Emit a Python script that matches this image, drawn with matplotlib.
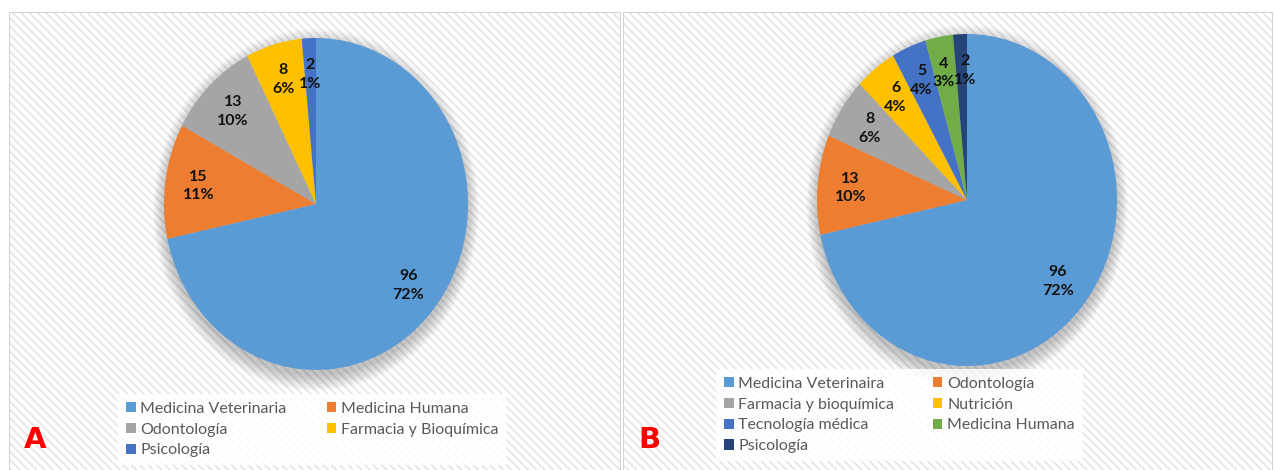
import matplotlib
matplotlib.use("Agg")
import matplotlib.pyplot as plt
from matplotlib.patches import Rectangle, Ellipse

# datos de los dos paneles
carreras_a = ['Medicina Veterinaria', 'Medicina Humana', 'Odontología',
              'Farmacia y Bioquímica', 'Psicología']
valores_a = [96, 15, 13, 8, 2]
colores_a = ['#5B9BD5', '#ED7D31', '#A5A5A5', '#FFC000', '#4472C4']

carreras_b = ['Medicina Veterinaira', 'Odontología', 'Farmacia y bioquímica',
              'Nutrición', 'Tecnología médica', 'Medicina Humana', 'Psicología']
valores_b = [96, 13, 8, 6, 5, 4, 2]
colores_b = ['#5B9BD5', '#ED7D31', '#A5A5A5', '#FFC000', '#4472C4', '#70AD47', '#264478']

plt.rcParams['font.family'] = ['Lato', 'DejaVu Sans']
plt.rcParams['hatch.linewidth'] = 1.3

W, H = 1275, 470
fig = plt.figure(figsize=(W / 100, H / 100), dpi=100)
fig.patch.set_facecolor('white')


def px_axes(x0, y0, w, h):
    # convierte un rectángulo en píxeles (origen arriba-izquierda) a coordenadas de figura
    return fig.add_axes([x0 / W, 1 - (y0 + h) / H, w / W, h / H])


def panel(x0, x1, letra):
    ax = px_axes(x0, 12, x1 - x0, H - 10)
    ax.set_xlim(0, 1)
    ax.set_ylim(0, 1)
    ax.axis('off')
    ax.add_patch(Rectangle((0, 0), 1, 1, transform=ax.transAxes, facecolor='white',
                           edgecolor='#E6E6E6', hatch='\\\\\\\\', lw=0, zorder=0))
    ax.add_patch(Rectangle((0, 0), 1, 1, transform=ax.transAxes, facecolor='none',
                           edgecolor='#D4D4D4', lw=1.5, zorder=1))
    fig.text((x0 + 26) / W, 1 - 440 / H, letra, color='#FF0000', fontsize=21,
             fontweight='bold', family='DejaVu Sans', ha='center', va='center')


def pastel(cx, cy, rx, ry, valores, colores):
    lim = 1.15
    ax = px_axes(cx - rx * lim, cy - ry * lim, 2 * rx * lim, 2 * ry * lim)
    # sombra suave bajo el gráfico
    for k in range(10):
        ax.add_patch(Ellipse((0, -0.035), 2 * (1 + 0.008 * k), 2 * (1 + 0.01 * k),
                             facecolor='#000000', alpha=0.025, lw=0, zorder=0))
    total = sum(valores)
    wedges, _, autotexts = ax.pie(
        valores, colors=colores, startangle=90, counterclock=False,
        autopct=lambda p: f"{round(p * total / 100)}\n{round(p)}%",
        pctdistance=0.78, wedgeprops=dict(lw=0), frame=True,
        textprops=dict(fontsize=11.5, fontweight='bold', color='#111111', linespacing=1.4))
    ax.set_xlim(-lim, lim)
    ax.set_ylim(-lim, lim)
    ax.set_aspect('auto')
    ax.axis('off')
    return wedges, autotexts


def fila_primero(items):
    # la leyenda de Excel se llena por filas; matplotlib llena por columnas
    return items[0::2] + items[1::2]


panel(9, 621, 'A')
panel(623, 1273, 'B')

wedges_a, textos_a = pastel(316, 204, 152, 166, valores_a, colores_a)
wedges_b, textos_b = pastel(967, 200, 150, 166, valores_b, colores_b)

# separar un poco las dos etiquetas más pequeñas del panel B
x, y = textos_b[-1].get_position()
textos_b[-1].set_position((x + 0.025, y))
x, y = textos_b[-2].get_position()
textos_b[-2].set_position((x - 0.01, y))

estilo_leyenda = dict(loc='upper left', ncol=2, frameon=True, fontsize=11.5,
                      handlelength=0.6, handleheight=0.6, handletextpad=0.3,
                      labelspacing=0.42, borderpad=0.5, fancybox=False,
                      labelcolor='#595959')

leg_a = fig.legend(fila_primero(wedges_a), fila_primero(carreras_a),
                   bbox_to_anchor=(110 / W, 1 - 386 / H),
                   columnspacing=2.5, **estilo_leyenda)
leg_b = fig.legend(fila_primero(wedges_b), fila_primero(carreras_b),
                   bbox_to_anchor=(708 / W, 1 - 361 / H),
                   columnspacing=2.4, **estilo_leyenda)
for leg in (leg_a, leg_b):
    leg.get_frame().set_facecolor('white')
    leg.get_frame().set_edgecolor('none')
    leg.get_frame().set_alpha(0.85)

plt.savefig('out.png', dpi=100)
